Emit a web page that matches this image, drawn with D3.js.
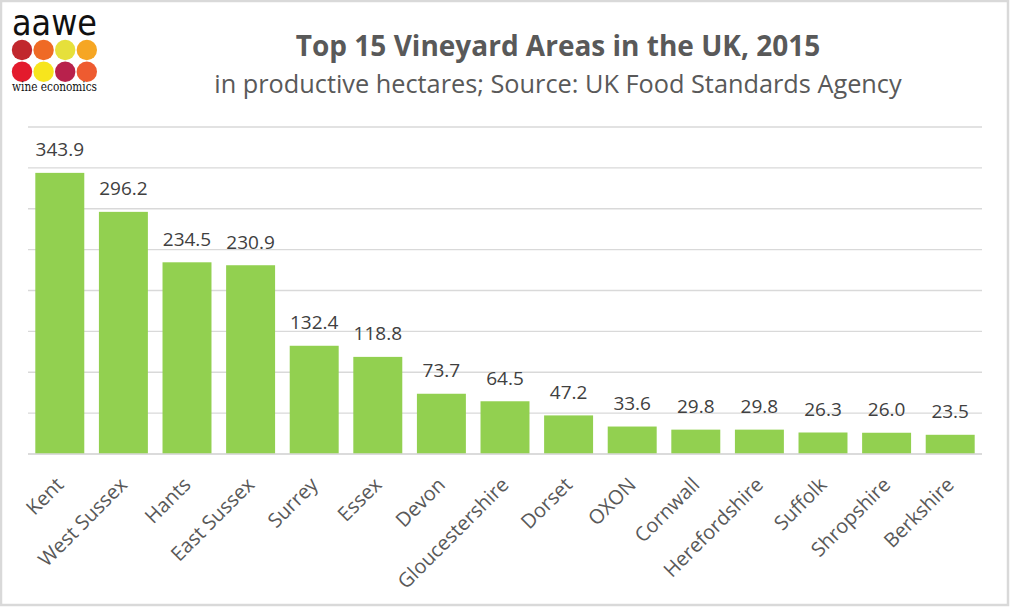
<!DOCTYPE html>
<html>
<head>
<meta charset="utf-8">
<script src="https://cdn.jsdelivr.net/npm/d3@7"></script>
<style>
  html, body { margin: 0; padding: 0; background: #fff; }
  svg { display: block; }
</style>
</head>
<body>
<svg id="chart" width="1010" height="607"></svg>
<script>
const categories = ["Kent", "West Sussex", "Hants", "East Sussex", "Surrey", "Essex", "Devon",
  "Gloucestershire", "Dorset", "OXON", "Cornwall", "Herefordshire", "Suffolk", "Shropshire", "Berkshire"];
const values = [343.9, 296.2, 234.5, 230.9, 132.4, 118.8, 73.7, 64.5, 47.2, 33.6, 29.8, 29.8, 26.3, 26.0, 23.5];
const yTicks = [0, 50, 100, 150, 200, 250, 300, 350, 400];
const titleText = "Top 15 Vineyard Areas in the UK, 2015";
const subtitleText = "in productive hectares; Source: UK Food Standards Agency";
const logoColors = ["#c1272d", "#ef6a25", "#e6e03b", "#f6a623", "#e31b2d", "#f7e51d", "#b8214c", "#ee5b30"];

(function () {
const svg = d3.select("#chart");
const W = 1010, H = 607;
const font = "'Open Sans', 'Noto Sans', sans-serif";

// border
svg.append("rect").attr("x", 1).attr("y", 1).attr("width", W - 3).attr("height", H - 3)
  .attr("fill", "#fff").attr("stroke", "#d9d9d9").attr("stroke-width", 2.5);

// plot area
const pl = 28, pr = 982, pt = 127, pb = 454;
const x = d3.scaleBand().domain(categories).range([pl, pr]).paddingInner(0.23).paddingOuter(0.115);
const y = d3.scaleLinear().domain([0, 400]).range([pb, pt]);

// gridlines
svg.append("g").selectAll("line").data(yTicks).join("line")
  .attr("x1", pl).attr("x2", pr)
  .attr("y1", d => y(d)).attr("y2", d => y(d))
  .attr("stroke", "#d9d9d9").attr("stroke-width", 1.4);

// bars
svg.append("g").selectAll("rect").data(values).join("rect")
  .attr("x", (d, i) => x(categories[i]))
  .attr("width", x.bandwidth())
  .attr("y", d => y(d))
  .attr("height", d => y(0) - y(d))
  .attr("fill", "#92d050");

// baseline on top
svg.append("line").attr("x1", pl).attr("x2", pr).attr("y1", y(0)).attr("y2", y(0))
  .attr("stroke", "#d9d9d9").attr("stroke-width", 1.4);

// value labels
svg.append("g").selectAll("text").data(values).join("text")
  .attr("x", (d, i) => x(categories[i]) + x.bandwidth() / 2)
  .attr("y", d => y(d) - 16.5)
  .attr("text-anchor", "middle")
  .attr("font-family", font).attr("font-size", 19).attr("fill", "#404040")
  .text(d => d.toFixed(1));

// category axis labels
svg.append("g").selectAll("text").data(categories).join("text")
  .attr("transform", d => `translate(${x(d) + x.bandwidth() / 2 + 5},${pb + 32}) rotate(-45)`)
  .attr("text-anchor", "end")
  .attr("font-family", font).attr("font-size", 20).attr("fill", "#595959")
  .text(d => d);

// title
svg.append("text").attr("x", 558).attr("y", 56).attr("text-anchor", "middle")
  .attr("font-family", font).attr("font-weight", "bold").attr("font-size", 28).attr("fill", "#595959")
  .text(titleText);
svg.append("text").attr("x", 558).attr("y", 93).attr("text-anchor", "middle")
  .attr("font-family", font).attr("font-size", 25.3).attr("fill", "#595959")
  .text(subtitleText);

// logo
const logo = svg.append("g");
logo.append("text").attr("x", 12).attr("y", 35).attr("font-family", "'DejaVu Sans', sans-serif")
  .attr("font-size", 36)
  .attr("fill", "#111").attr("textLength", 85).attr("lengthAdjust", "spacingAndGlyphs").text("aawe");
logo.selectAll("circle").data(logoColors).join("circle")
  .attr("cx", (d, i) => 22 + (i % 4) * 21.6)
  .attr("cy", (d, i) => 50 + Math.floor(i / 4) * 21.7)
  .attr("r", 10.2).attr("fill", d => d);
logo.append("text").attr("x", 12).attr("y", 91).attr("font-family", "'DejaVu Serif', serif").attr("font-size", 13)
  .attr("fill", "#111").attr("textLength", 85).attr("lengthAdjust", "spacingAndGlyphs").text("wine economics");
})();
</script>
</body>
</html>
